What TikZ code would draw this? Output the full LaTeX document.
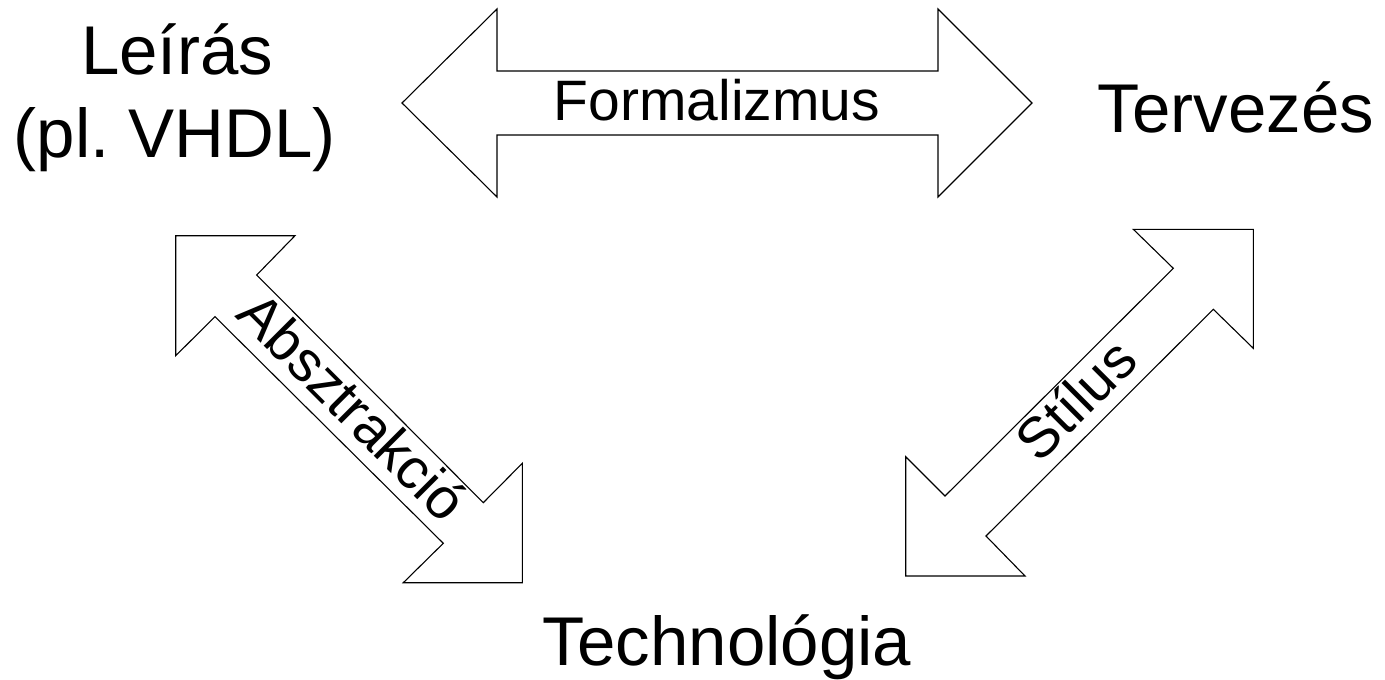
\documentclass[tikz,border=0pt]{standalone}
\usepackage{fontspec}
\setmainfont{Liberation Sans}
\begin{document}
\begin{tikzpicture}[x=1pt,y=-1pt,
  blockarrow/.style={draw=black,line width=1.1pt,fill=white,line join=miter},
  bigtext/.style={font=\fontsize{69}{80}\selectfont,inner sep=0pt,anchor=base},
  arrowtext/.style={font=\fontsize{57}{64}\selectfont,inner sep=0pt}]
\useasboundingbox (0,0) rectangle (1385,680);
% Formalizmus arrow (horizontal, double headed)
\draw[blockarrow] (402,103) -- (497,9) -- (497,71) -- (938,71) -- (938,9) -- (1032,103)
  -- (938,197) -- (938,135) -- (497,135) -- (497,197) -- cycle;
% Absztrakcio arrow (diagonal, down-right)
\draw[blockarrow] (175.7,235.7) -- (295,235.7) -- (256.7,275) -- (483.3,502.7) -- (522.3,463.3)
  -- (522.3,582.7) -- (403.3,582.7) -- (443.3,543.3) -- (215,316.7) -- (175.7,355.7) -- cycle;
% Stilus arrow (diagonal, up-right)
\draw[blockarrow] (905.7,576) -- (905.7,456.7) -- (945,496) -- (1173.3,268.3) -- (1133.3,229.3)
  -- (1253.3,229.3) -- (1253.3,348.3) -- (1213.3,309.3) -- (986,536) -- (1025,576) -- cycle;
% texts
\node[bigtext] (leiras) at (177,74) {Leírás};
\node[bigtext] (vhdl) at (175,157) {(pl.\ VHDL)};
\node[bigtext] (tervezes) at (1236,132) {Tervezés};
\node[bigtext] (techn) at (727,665) {Technológia};
\node[arrowtext,anchor=base] (formal) at (717,120) {Formalizmus};
\node[arrowtext,anchor=base,rotate=-45] (abszt) at (339,421) {Absztrakció};
\node[arrowtext,anchor=base,rotate=45] (stilus) at (1090,414) {Stílus};
\end{tikzpicture}
\end{document}
